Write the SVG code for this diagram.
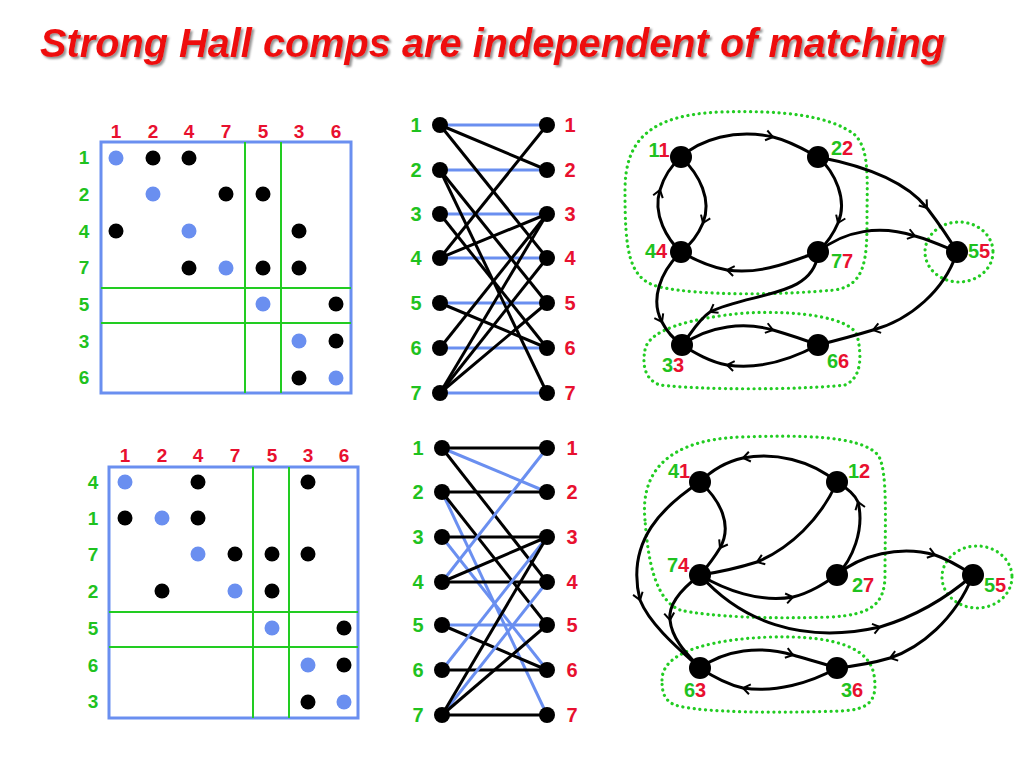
<svg xmlns="http://www.w3.org/2000/svg" width="1024" height="768" viewBox="0 0 1024 768">
<defs>
<filter id="sh" x="-5%" y="-20%" width="110%" height="150%"><feDropShadow dx="2" dy="2" stdDeviation="1" flood-color="#777" flood-opacity="0.8"/></filter>
<marker id="chev" viewBox="-9 -7 11 14" refX="0" refY="0" markerWidth="11" markerHeight="14" markerUnits="userSpaceOnUse" orient="auto"><path d="M-7,-5 L0,0 L-7,5" fill="none" stroke="#000" stroke-width="2"/></marker>
</defs>
<style>
.t{font-family:"Liberation Sans",Arial,sans-serif}
.lb{font-family:"Liberation Sans",Arial,sans-serif;font-size:19px;font-weight:bold;text-anchor:middle}
.gl{font-family:"Liberation Sans",Arial,sans-serif;font-size:20px;font-weight:bold;text-anchor:middle}
.g{fill:#1fc21f}.r{fill:#e8102f}
.box{fill:none;stroke:#6a8ff0;stroke-width:3}
.gr{stroke:#22cc22;stroke-width:2;fill:none}
.bd{fill:#6a8ff0}.kd{fill:#000}
.be{stroke:#6a8ff0;stroke-width:3}
.ke{stroke:#000;stroke-width:3}
.e{fill:none;stroke:#000;stroke-width:3;marker-mid:url(#chev)}
.reg{fill:none;stroke:#22cc22;stroke-width:3.2;stroke-dasharray:0.1 5.6;stroke-linecap:round}
</style>
<rect width="1024" height="768" fill="#fff"/>
<text id="title" class="t" x="40" y="57" font-size="40" font-weight="bold" font-style="italic" fill="#ee1111" textLength="905" lengthAdjust="spacingAndGlyphs" filter="url(#sh)">Strong Hall comps are independent of matching</text>

<!-- Top matrix -->
<g id="matrix-top">
<rect class="box" x="101" y="142" width="250" height="251"/>
<line class="gr" x1="245" y1="142" x2="245" y2="393"/>
<line class="gr" x1="281" y1="142" x2="281" y2="393"/>
<line class="gr" x1="101" y1="288" x2="351" y2="288"/>
<line class="gr" x1="101" y1="323" x2="351" y2="323"/>
<g class="lb r">
<text x="116" y="138">1</text><text x="153" y="138">2</text><text x="189" y="138">4</text><text x="226" y="138">7</text><text x="263" y="138">5</text><text x="299" y="138">3</text><text x="336" y="138">6</text>
</g>
<g class="lb g">
<text x="84" y="164">1</text><text x="84" y="201">2</text><text x="84" y="238">4</text><text x="84" y="274">7</text><text x="84" y="311">5</text><text x="84" y="348">3</text><text x="84" y="384">6</text>
</g>
<circle class="bd" cx="116" cy="158" r="7.5"/><circle class="kd" cx="153" cy="158" r="7.5"/><circle class="kd" cx="189" cy="158" r="7.5"/>
<circle class="bd" cx="153" cy="194" r="7.5"/><circle class="kd" cx="226" cy="194" r="7.5"/><circle class="kd" cx="263" cy="194" r="7.5"/>
<circle class="kd" cx="116" cy="231" r="7.5"/><circle class="bd" cx="189" cy="231" r="7.5"/><circle class="kd" cx="299" cy="231" r="7.5"/>
<circle class="kd" cx="189" cy="268" r="7.5"/><circle class="bd" cx="226" cy="268" r="7.5"/><circle class="kd" cx="263" cy="268" r="7.5"/><circle class="kd" cx="299" cy="268" r="7.5"/>
<circle class="bd" cx="263" cy="304" r="7.5"/><circle class="kd" cx="336" cy="304" r="7.5"/>
<circle class="bd" cx="299" cy="341" r="7.5"/><circle class="kd" cx="336" cy="341" r="7.5"/>
<circle class="kd" cx="299" cy="378" r="7.5"/><circle class="bd" cx="336" cy="378" r="7.5"/>
</g>

<!-- Bottom matrix -->
<g id="matrix-bottom">
<rect class="box" x="109" y="467" width="249" height="251"/>
<line class="gr" x1="253" y1="467" x2="253" y2="718"/>
<line class="gr" x1="289" y1="467" x2="289" y2="718"/>
<line class="gr" x1="109" y1="612" x2="358" y2="612"/>
<line class="gr" x1="109" y1="647" x2="358" y2="647"/>
<g class="lb r">
<text x="125" y="462">1</text><text x="162" y="462">2</text><text x="198" y="462">4</text><text x="235" y="462">7</text><text x="272" y="462">5</text><text x="308" y="462">3</text><text x="344" y="462">6</text>
</g>
<g class="lb g">
<text x="93" y="489">4</text><text x="93" y="525">1</text><text x="93" y="561">7</text><text x="93" y="598">2</text><text x="93" y="635">5</text><text x="93" y="672">6</text><text x="93" y="708">3</text>
</g>
<circle class="bd" cx="125" cy="482" r="7.5"/><circle class="kd" cx="198" cy="482" r="7.5"/><circle class="kd" cx="308" cy="482" r="7.5"/>
<circle class="kd" cx="125" cy="518" r="7.5"/><circle class="bd" cx="162" cy="518" r="7.5"/><circle class="kd" cx="198" cy="518" r="7.5"/>
<circle class="bd" cx="198" cy="554" r="7.5"/><circle class="kd" cx="235" cy="554" r="7.5"/><circle class="kd" cx="272" cy="554" r="7.5"/><circle class="kd" cx="308" cy="554" r="7.5"/>
<circle class="kd" cx="162" cy="591" r="7.5"/><circle class="bd" cx="235" cy="591" r="7.5"/><circle class="kd" cx="272" cy="591" r="7.5"/>
<circle class="bd" cx="272" cy="628" r="7.5"/><circle class="kd" cx="344" cy="628" r="7.5"/>
<circle class="bd" cx="308" cy="665" r="7.5"/><circle class="kd" cx="344" cy="665" r="7.5"/>
<circle class="kd" cx="308" cy="702" r="7.5"/><circle class="bd" cx="344" cy="702" r="7.5"/>
</g>

<!-- Top bipartite -->
<g id="bip-top-edges">
<line class="be" x1="440" y1="125" x2="547" y2="125"/>
<line class="be" x1="440" y1="170" x2="547" y2="170"/>
<line class="be" x1="440" y1="214" x2="547" y2="214"/>
<line class="be" x1="440" y1="258" x2="547" y2="258"/>
<line class="be" x1="440" y1="303" x2="547" y2="303"/>
<line class="be" x1="440" y1="348" x2="547" y2="348"/>
<line class="be" x1="440" y1="393" x2="547" y2="393"/>
<line class="ke" x1="440" y1="125" x2="547" y2="170"/>
<line class="ke" x1="440" y1="125" x2="547" y2="258"/>
<line class="ke" x1="440" y1="170" x2="547" y2="393"/>
<line class="ke" x1="440" y1="170" x2="547" y2="303"/>
<line class="ke" x1="440" y1="258" x2="547" y2="125"/>
<line class="ke" x1="440" y1="258" x2="547" y2="214"/>
<line class="ke" x1="440" y1="393" x2="547" y2="258"/>
<line class="ke" x1="440" y1="393" x2="547" y2="303"/>
<line class="ke" x1="440" y1="393" x2="547" y2="214"/>
<line class="ke" x1="440" y1="303" x2="547" y2="348"/>
<line class="ke" x1="440" y1="214" x2="547" y2="348"/>
<line class="ke" x1="440" y1="348" x2="547" y2="214"/>
</g>
<g id="bip-top-nodes">
<g class="kd">
<circle cx="440" cy="125" r="8"/><circle cx="440" cy="170" r="8"/><circle cx="440" cy="214" r="8"/><circle cx="440" cy="258" r="8"/><circle cx="440" cy="303" r="8"/><circle cx="440" cy="348" r="8"/><circle cx="440" cy="393" r="8"/>
<circle cx="547" cy="125" r="8"/><circle cx="547" cy="170" r="8"/><circle cx="547" cy="214" r="8"/><circle cx="547" cy="258" r="8"/><circle cx="547" cy="303" r="8"/><circle cx="547" cy="348" r="8"/><circle cx="547" cy="393" r="8"/>
</g>
<g class="lb g" style="font-size:20px">
<text x="416" y="132">1</text><text x="416" y="177">2</text><text x="416" y="221">3</text><text x="416" y="265">4</text><text x="416" y="310">5</text><text x="416" y="355">6</text><text x="416" y="400">7</text>
</g>
<g class="lb r" style="font-size:20px">
<text x="570" y="132">1</text><text x="570" y="177">2</text><text x="570" y="221">3</text><text x="570" y="265">4</text><text x="570" y="310">5</text><text x="570" y="355">6</text><text x="570" y="400">7</text>
</g>
</g>

<!-- Bottom bipartite -->
<g id="bip-bottom-edges">
<line class="ke" x1="442" y1="448" x2="547" y2="448"/>
<line class="be" x1="442" y1="448" x2="547" y2="492"/>
<line class="ke" x1="442" y1="448" x2="547" y2="582"/>
<line class="ke" x1="442" y1="492" x2="547" y2="492"/>
<line class="be" x1="442" y1="492" x2="547" y2="715"/>
<line class="ke" x1="442" y1="492" x2="547" y2="625"/>
<line class="ke" x1="442" y1="537" x2="547" y2="537"/>
<line class="be" x1="442" y1="537" x2="547" y2="670"/>
<line class="be" x1="442" y1="582" x2="547" y2="448"/>
<line class="ke" x1="442" y1="582" x2="547" y2="582"/>
<line class="ke" x1="442" y1="582" x2="547" y2="537"/>
<line class="be" x1="442" y1="625" x2="547" y2="625"/>
<line class="ke" x1="442" y1="625" x2="547" y2="670"/>
<line class="ke" x1="442" y1="670" x2="547" y2="670"/>
<line class="be" x1="442" y1="670" x2="547" y2="537"/>
<line class="ke" x1="442" y1="715" x2="547" y2="715"/>
<line class="be" x1="442" y1="715" x2="547" y2="582"/>
<line class="ke" x1="442" y1="715" x2="547" y2="537"/>
<line class="ke" x1="442" y1="715" x2="547" y2="625"/>
</g>
<g id="bip-bottom-nodes">
<g class="kd">
<circle cx="442" cy="448" r="8"/><circle cx="442" cy="492" r="8"/><circle cx="442" cy="537" r="8"/><circle cx="442" cy="582" r="8"/><circle cx="442" cy="625" r="8"/><circle cx="442" cy="670" r="8"/><circle cx="442" cy="715" r="8"/>
<circle cx="547" cy="448" r="8"/><circle cx="547" cy="492" r="8"/><circle cx="547" cy="537" r="8"/><circle cx="547" cy="582" r="8"/><circle cx="547" cy="625" r="8"/><circle cx="547" cy="670" r="8"/><circle cx="547" cy="715" r="8"/>
</g>
<g class="lb g" style="font-size:20px">
<text x="418" y="455">1</text><text x="418" y="499">2</text><text x="418" y="544">3</text><text x="418" y="589">4</text><text x="418" y="632">5</text><text x="418" y="677">6</text><text x="418" y="722">7</text>
</g>
<g class="lb r" style="font-size:20px">
<text x="572" y="455">1</text><text x="572" y="499">2</text><text x="572" y="544">3</text><text x="572" y="589">4</text><text x="572" y="632">5</text><text x="572" y="677">6</text><text x="572" y="722">7</text>
</g>
</g>

<!-- Top graph -->
<g id="regions-top">
<path class="reg" d="M625,190 C625,140 650,115 720,112 C780,110 830,115 855,135 C870,150 867,180 867,220 C867,260 865,285 835,290 C780,295 700,296 660,287 C628,280 625,250 625,190 Z"/>
<ellipse class="reg" cx="959" cy="252" rx="34" ry="30"/>
<path class="reg" d="M645,350 C648,330 690,318 745,313 C800,310 850,318 857,335 C862,355 862,378 845,385 C800,390 700,390 660,385 C645,380 642,365 645,350 Z"/>
</g>
<g id="edges-top">
<path class="e" d="M681,157 C700,140 735,128 773,137 C790,141 805,150 818,157"/>
<path class="e" d="M681,157 C700,175 712,200 703,223 C698,235 690,245 681,252"/>
<path class="e" d="M681,252 C668,240 652,215 660,190 C664,176 672,165 681,157"/>
<path class="e" d="M818,157 C835,172 848,200 838,223 C833,235 825,245 818,252"/>
<path class="e" d="M818,157 C860,165 905,180 927,208 C940,225 950,240 957,252"/>
<path class="e" d="M818,252 C845,230 880,225 915,236 C930,240 945,247 957,252"/>
<path class="e" d="M818,252 C790,262 760,275 727,270 C710,267 695,260 681,252"/>
<path class="e" d="M681,252 C660,272 650,300 662,322 C667,332 675,340 682,345"/>
<path class="e" d="M818,252 C815,298 750,292 710,312 C698,320 690,335 682,345"/>
<path class="e" d="M682,345 C710,325 745,322 773,330 C790,335 805,340 818,345"/>
<path class="e" d="M818,345 C790,360 760,370 727,365 C710,362 695,353 682,345"/>
<path class="e" d="M957,252 C945,290 910,320 873,330 C850,337 830,342 818,345"/>
</g>
<g id="nodes-top">
<g id="n11"><circle class="kd" cx="681" cy="157" r="11"/><text class="gl" x="659" y="157"><tspan class="g">1</tspan><tspan class="r">1</tspan></text></g>
<g id="n22"><circle class="kd" cx="818" cy="157" r="11"/><text class="gl" x="842" y="155"><tspan class="g">2</tspan><tspan class="r">2</tspan></text></g>
<g id="n44"><circle class="kd" cx="681" cy="252" r="11"/><text class="gl" x="656" y="258"><tspan class="g">4</tspan><tspan class="r">4</tspan></text></g>
<g id="n77"><circle class="kd" cx="818" cy="252" r="11"/><text class="gl" x="842" y="268"><tspan class="g">7</tspan><tspan class="r">7</tspan></text></g>
<g id="n55"><circle class="kd" cx="957" cy="252" r="11"/><text class="gl" x="979" y="258"><tspan class="g">5</tspan><tspan class="r">5</tspan></text></g>
<g id="n33"><circle class="kd" cx="682" cy="345" r="11"/><text class="gl" x="673" y="372"><tspan class="g">3</tspan><tspan class="r">3</tspan></text></g>
<g id="n66"><circle class="kd" cx="818" cy="345" r="11"/><text class="gl" x="838" y="368"><tspan class="g">6</tspan><tspan class="r">6</tspan></text></g>
</g>

<!-- Bottom graph -->
<g id="regions-bottom">
<path class="reg" d="M645,520 C640,470 670,440 740,437 C800,435 860,435 878,455 C888,470 885,520 885,575 C885,605 870,615 830,617 C770,619 710,617 680,610 C655,600 648,560 645,520 Z"/>
<ellipse class="reg" cx="977" cy="577" rx="35" ry="31"/>
<path class="reg" d="M662,680 C662,655 700,640 770,637 C840,635 870,650 874,675 C878,700 870,710 840,711 C780,713 700,713 675,705 C663,700 662,690 662,680 Z"/>
</g>
<g id="edges-bottom">
<path class="e" d="M837,482 C810,460 775,452 743,458 C725,462 712,470 700,482"/>
<path class="e" d="M700,482 C720,500 733,525 720,548 C714,558 707,567 700,575"/>
<path class="e" d="M700,482 C665,505 625,540 640,600 C650,625 680,650 700,668"/>
<path class="e" d="M837,482 C820,520 790,548 757,562 C738,568 720,572 700,575"/>
<path class="e" d="M837,575 C852,560 865,530 858,502 C855,495 847,488 837,482"/>
<path class="e" d="M700,575 C725,590 760,603 793,597 C810,593 825,583 837,575"/>
<path class="e" d="M837,575 C860,555 900,545 935,555 C950,560 962,568 973,575"/>
<path class="e" d="M700,575 C740,620 800,645 880,627 C920,615 950,595 973,575"/>
<path class="e" d="M700,575 C680,590 668,605 670,620 C672,640 688,655 700,668"/>
<path class="e" d="M700,668 C725,650 760,645 793,655 C810,660 825,664 837,668"/>
<path class="e" d="M837,668 C810,683 775,693 743,688 C725,684 712,676 700,668"/>
<path class="e" d="M973,575 C955,620 920,648 890,658 C870,664 855,666 837,668"/>
</g>
<g id="nodes-bottom">
<g id="n41"><circle class="kd" cx="700" cy="482" r="11"/><text class="gl" x="679" y="478"><tspan class="g">4</tspan><tspan class="r">1</tspan></text></g>
<g id="n12"><circle class="kd" cx="837" cy="482" r="11"/><text class="gl" x="859" y="478"><tspan class="g">1</tspan><tspan class="r">2</tspan></text></g>
<g id="n74"><circle class="kd" cx="700" cy="575" r="11"/><text class="gl" x="678" y="572"><tspan class="g">7</tspan><tspan class="r">4</tspan></text></g>
<g id="n27"><circle class="kd" cx="837" cy="575" r="11"/><text class="gl" x="863" y="592"><tspan class="g">2</tspan><tspan class="r">7</tspan></text></g>
<g id="n55b"><circle class="kd" cx="973" cy="575" r="11"/><text class="gl" x="995" y="592"><tspan class="g">5</tspan><tspan class="r">5</tspan></text></g>
<g id="n63"><circle class="kd" cx="700" cy="668" r="11"/><text class="gl" x="695" y="697"><tspan class="g">6</tspan><tspan class="r">3</tspan></text></g>
<g id="n36"><circle class="kd" cx="837" cy="668" r="11"/><text class="gl" x="852" y="697"><tspan class="g">3</tspan><tspan class="r">6</tspan></text></g>
</g>
</svg>
